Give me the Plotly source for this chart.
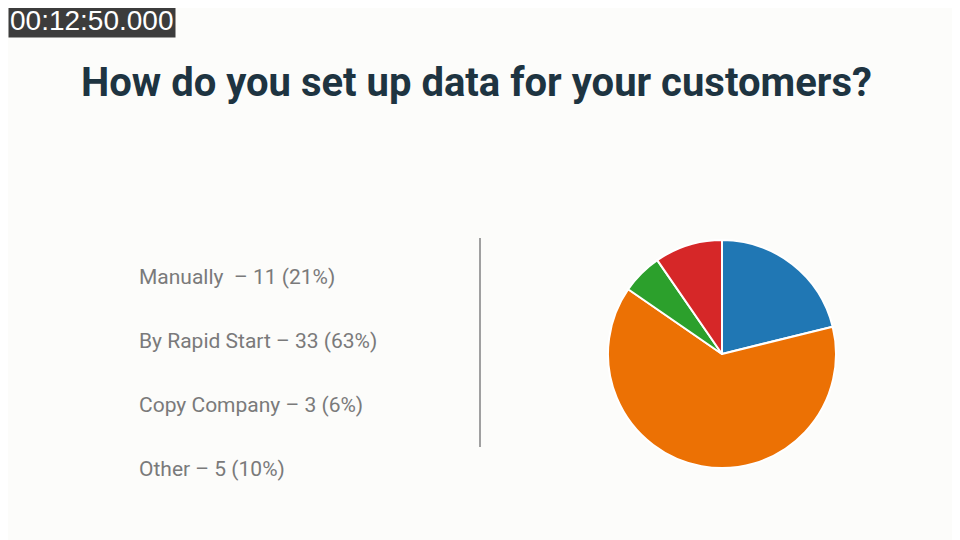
import plotly.graph_objects as go

categories = ["Manually", "By Rapid Start", "Copy Company", "Other"]
counts = [11, 33, 3, 5]
percents = [21, 63, 6, 10]
label_texts = ["Manually  – 11 (21%)", "By Rapid Start – 33 (63%)", "Copy Company – 3 (6%)", "Other – 5 (10%)"]
colors = ["#2077b4", "#ec7104", "#2ca02c", "#d62728"]

OFF = 8  # page body margin
W, H = 960, 540
def px(x): return (x - OFF) / W
def py(y): return 1 - (y - OFF) / H

fig = go.Figure(go.Pie(
    labels=categories, values=counts, sort=False, direction="clockwise", rotation=0,
    marker=dict(colors=colors, line=dict(color="white", width=2)),
    textinfo="none", hoverinfo="label+value+percent", showlegend=False,
    domain=dict(x=[px(608), px(836)], y=[py(468), py(240)]),
))

ann = [
    dict(text="<b>How do you set up data for your customers?</b>", x=px(476), y=py(83),
         xref="paper", yref="paper", showarrow=False, xanchor="center", yanchor="middle",
         font=dict(size=40, color="#1e3441", family="Roboto")),
    dict(text="00:12:50.000", x=px(8), y=py(21), xref="paper", yref="paper", showarrow=False,
         xanchor="left", yanchor="middle", bgcolor="#3c3c3c",
         font=dict(size=28, color="white", family="Liberation Sans"), borderpad=1),
]
ys = [277, 341, 405, 469]
for t, y in zip(label_texts, ys):
    ann.append(dict(text=t, x=px(137), y=py(y), xref="paper", yref="paper", showarrow=False,
                    xanchor="left", yanchor="middle", font=dict(size=21, color="#7a7a7a", family="Roboto")))

fig.update_layout(
    width=W, height=H, margin=dict(l=0, r=0, t=0, b=0),
    paper_bgcolor="#fcfcfa", plot_bgcolor="#fcfcfa",
    annotations=ann,
    shapes=[dict(type="line", xref="paper", yref="paper", x0=px(480), x1=px(480),
                 y0=py(238), y1=py(447), line=dict(color="#a0a0a0", width=2))],
)
fig.write_html("out.html")
